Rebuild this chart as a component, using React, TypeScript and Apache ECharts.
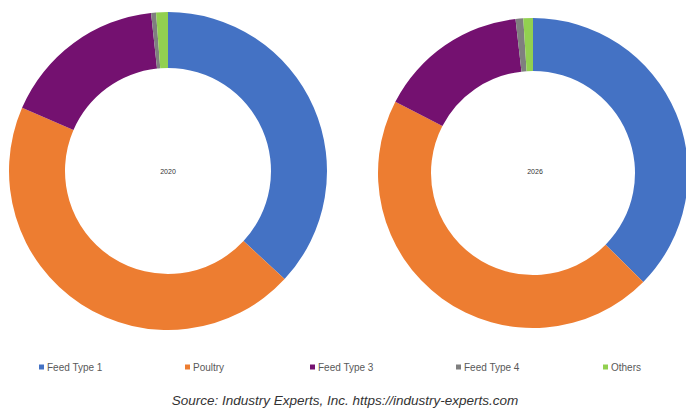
import React, { useEffect, useRef } from "react";
import * as echarts from "echarts";

const categories = ["Feed Type 1", "Poultry", "Feed Type 3", "Feed Type 4", "Others"];
const colors = ["#4472C4", "#ED7D31", "#741170", "#7F7F7F", "#92D050"];
const values2020 = [36.9, 44.6, 16.8, 0.5, 1.2];
const values2026 = [37.4, 45.2, 15.6, 0.8, 1.0];
const years = ["2020", "2026"];
const legendLefts = [39, 185, 310, 456, 603];
const sourceText = "Source: Industry Experts, Inc. https://industry-experts.com";

export default function App() {
  const ref = useRef<HTMLDivElement>(null);
  useEffect(() => {
    if (!ref.current) return;
    const chart = echarts.init(ref.current, null, { renderer: "svg" });
    const mk = (vals: number[]) => categories.map((n, i) => ({ name: n, value: vals[i], itemStyle: { color: colors[i] } }));
    const pieBase = {
      type: "pie",
      startAngle: 90,
      clockwise: true,
      label: { show: false },
      labelLine: { show: false },
      emphasis: { disabled: true },
      itemStyle: { borderWidth: 0 },
      silent: true,
    };
    chart.setOption({
      animation: false,
      color: colors,
      legend: categories.map((c, i) => ({
        data: [c],
        left: legendLefts[i],
        top: 362,
        itemWidth: 5,
        itemHeight: 5,
        icon: "rect",
        padding: 0,
        textStyle: { fontSize: 10, color: "#595959", padding: [0, 0, 0, -2] },
        selectedMode: false,
      })),
      series: [
        { ...pieBase, name: years[0], center: [168, 171], radius: [103, 159], data: mk(values2020) },
        { ...pieBase, name: years[1], center: [533, 173], radius: [102, 155], data: mk(values2026) },
      ],
      graphic: [
        { type: "text", x: 168, y: 171, style: { text: years[0], fontSize: 7, fill: "#333333", textAlign: "center", textVerticalAlign: "middle" } },
        { type: "text", x: 535, y: 171, style: { text: years[1], fontSize: 7, fill: "#333333", textAlign: "center", textVerticalAlign: "middle" } },
        { type: "text", x: 345, y: 400, style: { text: sourceText, fontSize: 13.5, fontStyle: "italic", fill: "#333333", textAlign: "center", textVerticalAlign: "middle" } },
      ],
    });
    return () => chart.dispose();
  }, []);
  return <div ref={ref} style={{ position: "fixed", left: 0, top: 0, width: 686, height: 408, background: "#fff" }} />;
}
